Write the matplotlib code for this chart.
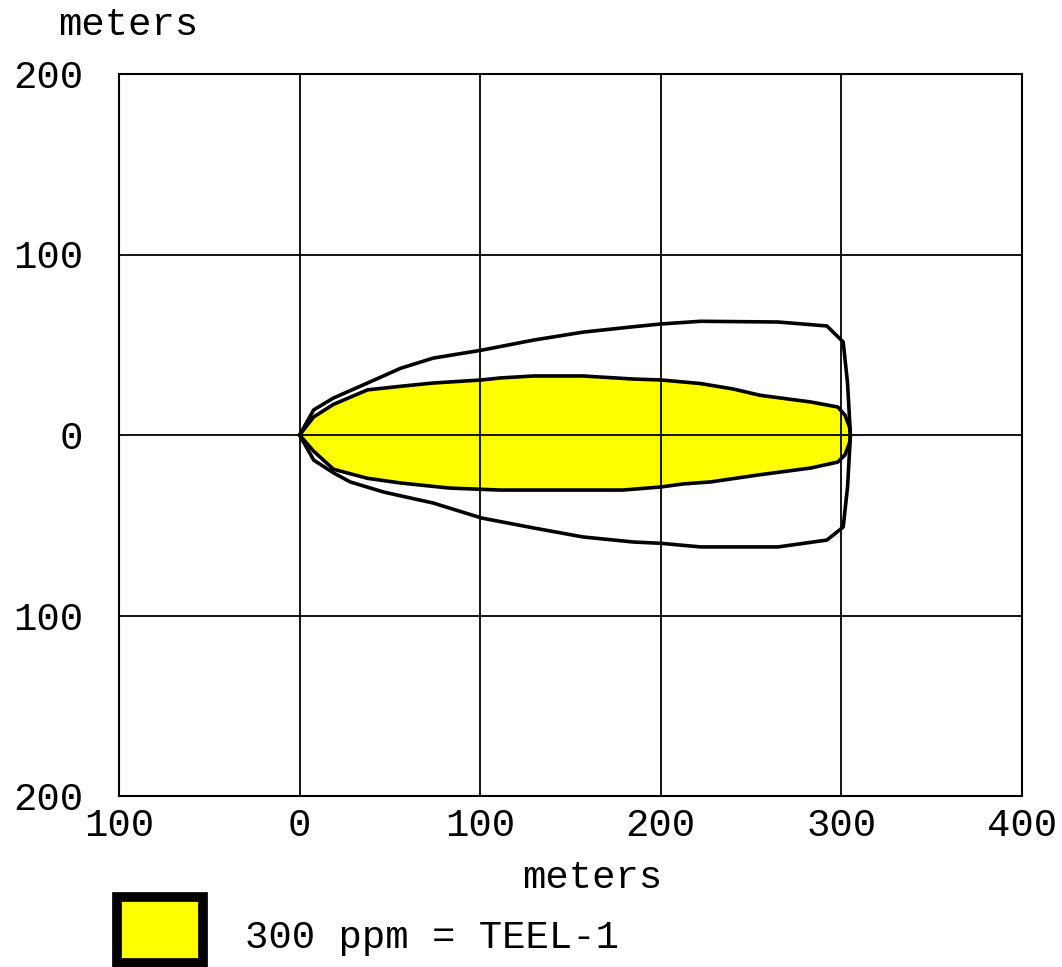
import matplotlib
matplotlib.use("Agg")
import matplotlib.pyplot as plt
from matplotlib.patches import Rectangle

# axis ticks (labels drawn without minus sign, like the original)
x_ticks = [-100, 0, 100, 200, 300, 400]
x_tick_labels = ["100", "0", "100", "200", "300", "400"]
y_ticks = [-200, -100, 0, 100, 200]
y_tick_labels = ["200", "100", "0", "100", "200"]

# TEEL-1 footprint (yellow zone), meters
teel_top_x = [0, 7.8, 18.8, 37.6, 56, 74, 100.8, 111, 129.6, 157, 166.7, 185, 200, 222, 240, 255, 283, 298, 302, 304.5, 305]
teel_top_y = [0, 10, 17, 25, 27, 28.8, 30.5, 31.6, 32.7, 32.7, 32.1, 31, 30.5, 28.5, 25.5, 22, 18.3, 15.5, 11, 4.4, 0]
teel_bot_x = [0, 7.8, 18.8, 37.6, 56, 83, 111, 144.5, 179, 200, 212.6, 227.6, 255, 283, 298, 302, 304.5, 305]
teel_bot_y = [0, -9, -19, -24, -26.6, -29.4, -30.5, -30.5, -30.5, -28.8, -27.1, -26, -22, -18.3, -15, -11, -4.4, 0]

# confidence line around the footprint
conf_top_x = [0, 7.8, 18.8, 37.6, 56, 74, 100.8, 129.6, 157, 185, 200, 222, 265, 292, 301, 303.4, 305]
conf_top_y = [0, 13.9, 20.5, 28.8, 37, 42.6, 47, 52.6, 57, 60, 61.5, 63, 62.6, 60.4, 51.5, 28.8, 0]
conf_bot_x = [0, 7.8, 18.8, 28, 46.5, 74, 100.8, 129.6, 157, 185, 200, 222, 265, 292, 301, 303.4, 305]
conf_bot_y = [0, -13.9, -21, -26, -31.6, -37.7, -46, -51.5, -56.5, -59.3, -60, -62, -62, -58.2, -51, -28.8, 0]

legend_label = "300 ppm = TEEL-1"
FONT = "Liberation Mono"
FS = 28

fig = plt.figure(figsize=(10.62, 9.67), dpi=100)
ax = fig.add_axes([119 / 1062, 171 / 967, 903 / 1062, 722 / 967])
ax.set_xlim(-100, 400)
ax.set_ylim(-200, 200)

# yellow zone
poly_x = teel_top_x + teel_bot_x[::-1]
poly_y = teel_top_y + teel_bot_y[::-1]
ax.fill(poly_x, poly_y, color="#ffff00", zorder=1, lw=0)

# grid
for v in x_ticks[1:-1]:
    ax.axvline(v, color="black", lw=1.3, zorder=2)
for v in y_ticks[1:-1]:
    ax.axhline(v, color="black", lw=1.3, zorder=2)

ax.plot(poly_x, poly_y, color="black", lw=2.6, zorder=3, solid_joinstyle="round")
ax.plot(conf_top_x + conf_bot_x[::-1], conf_top_y + conf_bot_y[::-1],
        color="black", lw=2.6, zorder=3, solid_joinstyle="round")

ax.set_xticks(x_ticks)
ax.set_xticklabels(x_tick_labels, family=FONT, fontsize=FS)
ax.set_yticks(y_ticks)
ax.set_yticklabels(y_tick_labels, family=FONT, fontsize=FS)
ax.tick_params(axis="both", length=0)
ax.tick_params(axis="x", pad=9)
ax.tick_params(axis="y", pad=26)
for s in ax.spines.values():
    s.set_linewidth(1.5)

fig.text(128 / 1062, 1 - 25 / 967, "meters", family=FONT, fontsize=FS,
         ha="center", va="center")
fig.text(592 / 1062, 1 - 878 / 967, "meters", family=FONT, fontsize=FS,
         ha="center", va="center")

# legend
fig.patches.append(Rectangle((117 / 1062, 1 - 963 / 967), 86 / 1062, 66 / 967,
                             transform=fig.transFigure, facecolor="#ffff00",
                             edgecolor="black", lw=7))
fig.text(245 / 1062, 1 - 938 / 967, legend_label, family=FONT, fontsize=FS,
         ha="left", va="center")

fig.savefig("out.png", dpi=100)
